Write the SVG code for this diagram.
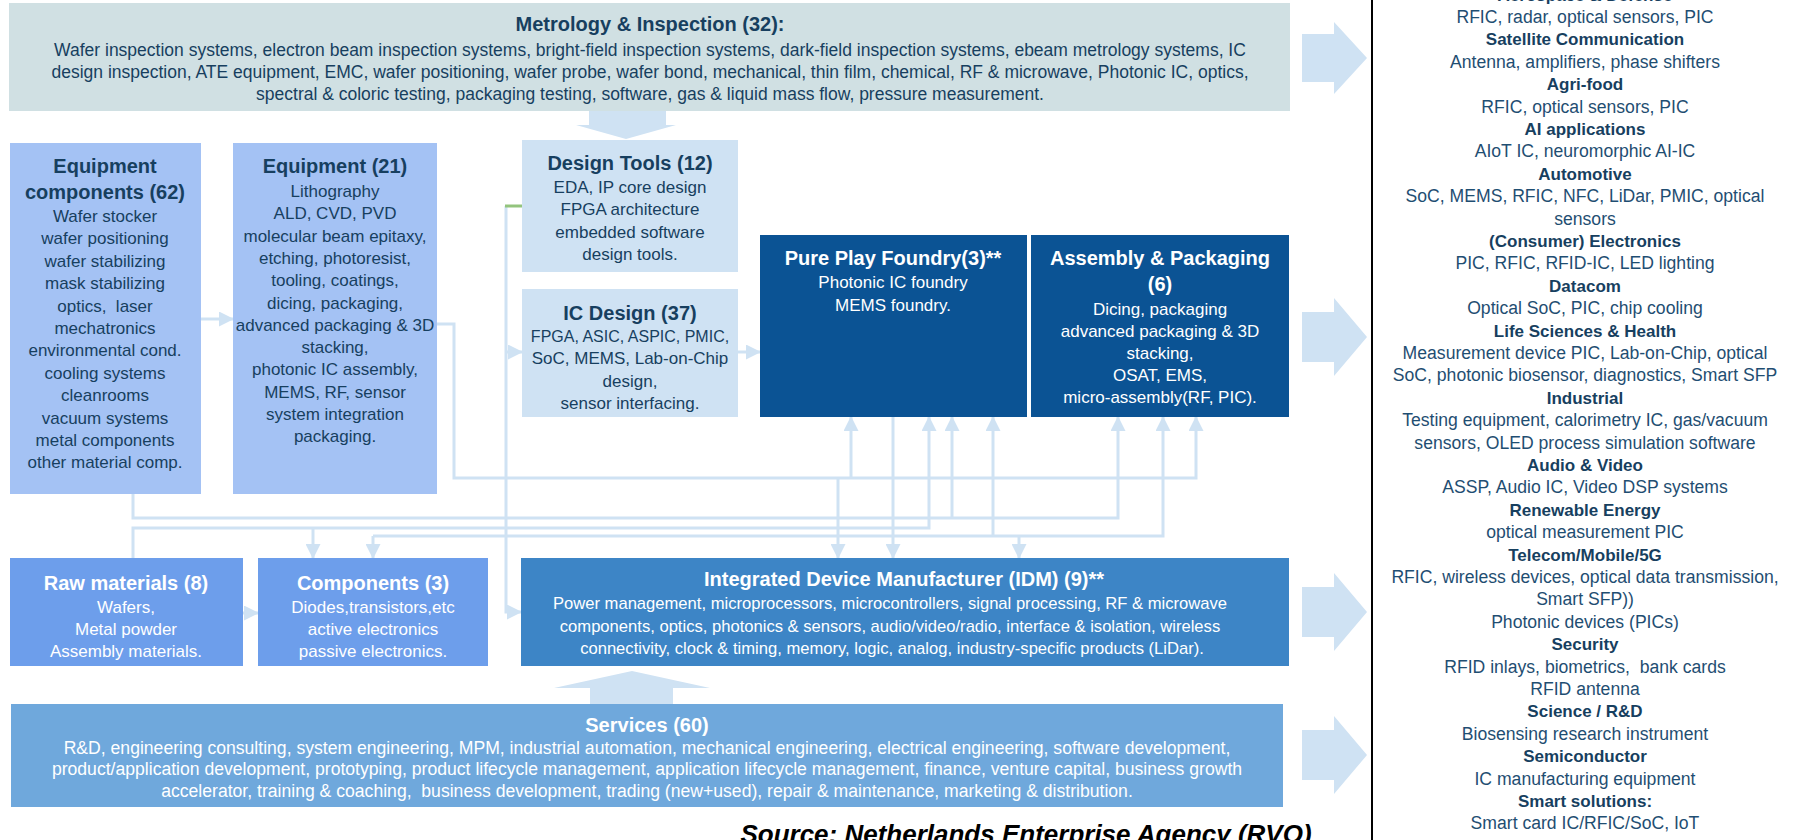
<svg xmlns="http://www.w3.org/2000/svg" width="1798" height="840" viewBox="0 0 1798 840">
<defs>
<style>
text { font-family: "Liberation Sans", Arial, sans-serif; text-anchor: middle; }
.t { font-size: 20px; font-weight: bold; }
.b { font-size: 17px; }
.bl { font-size: 17.5px; }
.dk { fill: #173f5f; }
.wh { fill: #ffffff; }
.rh { font-size: 17px; font-weight: bold; fill: #173f5f; }
.rb { font-size: 17.6px; fill: #1f4e72; }
.con { fill: none; stroke: #cfe2f3; stroke-width: 3; }
.big { fill: #cfe2f3; }
</style>
<marker id="ah" markerWidth="15" markerHeight="15" refX="14" refY="7.5" orient="auto" markerUnits="userSpaceOnUse"><path d="M0,0 L15,7.5 L0,15 Z" fill="#cfe2f3"/></marker>
</defs>
<rect width="1798" height="840" fill="#ffffff"/>

<g id="connectors">
  <path class="big" d="M589,111 H666 V125 H676 L626,139 L576,125 H589 Z"/>
  <path class="big" d="M590,704 V688 H554 L632,671 L710,688 H673 V704 Z"/>
  <path class="big" d="M1302,34 H1334 V22 L1367,58 L1334,94 V82 H1302 Z"/>
  <path class="big" d="M1302,312 H1334 V298 L1367,337 L1334,376 V362 H1302 Z"/>
  <path class="big" d="M1302,587 H1334 V573 L1367,612 L1334,651 V637 H1302 Z"/>
  <path class="big" d="M1302,730 H1334 V716 L1367,755 L1334,794 V780 H1302 Z"/>
  <path class="con" d="M201,319 H233" marker-end="url(#ah)"/>
  <path class="con" d="M243,613 H258" marker-end="url(#ah)"/>
  <path class="con" d="M437,324 H454 V478 H1196 V417" marker-end="url(#ah)"/>
  <path class="con" d="M851,478 V417" marker-end="url(#ah)"/>
  <path class="con" d="M838,478 V558" marker-end="url(#ah)"/>
  <path class="con" d="M133,494 V518 H1118 V417" marker-end="url(#ah)"/>
  <path class="con" d="M952,518 V417" marker-end="url(#ah)"/>
  <path class="con" d="M133,558 V528 H929 V417" marker-end="url(#ah)"/>
  <path class="con" d="M313,528 V558" marker-end="url(#ah)"/>
  <path class="con" d="M373,536 H1163 V417" marker-end="url(#ah)"/>
  <path class="con" d="M373,536 V558" marker-end="url(#ah)"/>
  <path class="con" d="M993,536 V417" marker-end="url(#ah)"/>
  <path class="con" d="M1019,536 V558" marker-end="url(#ah)"/>
  <path class="con" d="M893,417 V558" marker-end="url(#ah)"/>
  <path class="con" d="M506,206 V612 H521" marker-end="url(#ah)"/>
  <path class="con" d="M506,352 H522" marker-end="url(#ah)"/>
  <path fill="none" stroke="#93c47d" stroke-width="3" d="M522,206 H505"/>
  <path class="con" d="M738,352 H760" marker-end="url(#ah)"/>
  <line x1="1372" y1="0" x2="1372" y2="840" stroke="#000000" stroke-width="2"/>
</g>

<g id="metrology">
  <rect x="9" y="3" width="1281" height="108" fill="#d0e0e3"/>
  <text class="t dk" x="650" y="31">Metrology &amp; Inspection (32):</text>
  <text class="bl dk" x="650" y="56">Wafer inspection systems, electron beam inspection systems, bright-field inspection systems, dark-field inspection systems, ebeam metrology systems, IC</text>
  <text class="bl dk" x="650" y="78">design inspection, ATE equipment, EMC, wafer positioning, wafer probe, wafer bond, mechanical, thin film, chemical, RF &amp; microwave, Photonic IC, optics,</text>
  <text class="bl dk" x="650" y="100">spectral &amp; coloric testing, packaging testing, software, gas &amp; liquid mass flow, pressure measurement.</text>
</g>

<g id="equipment-components">
  <rect x="10" y="143" width="191" height="351" fill="#a4c2f4"/>
  <text class="t dk" x="105" y="173">Equipment</text>
  <text class="t dk" x="105" y="199">components (62)</text>
  <text class="b dk" x="105" y="222">Wafer stocker</text>
  <text class="b dk" x="105" y="244.4">wafer positioning</text>
  <text class="b dk" x="105" y="266.8">wafer stabilizing</text>
  <text class="b dk" x="105" y="289.2">mask stabilizing</text>
  <text class="b dk" x="105" y="311.6" xml:space="preserve">optics,  laser</text>
  <text class="b dk" x="105" y="334">mechatronics</text>
  <text class="b dk" x="105" y="356.4">environmental cond.</text>
  <text class="b dk" x="105" y="378.8">cooling systems</text>
  <text class="b dk" x="105" y="401.2">cleanrooms</text>
  <text class="b dk" x="105" y="423.6">vacuum systems</text>
  <text class="b dk" x="105" y="446">metal components</text>
  <text class="b dk" x="105" y="468.4">other material comp.</text>
</g>

<g id="equipment">
  <rect x="233" y="143" width="204" height="351" fill="#a4c2f4"/>
  <text class="t dk" x="335" y="173">Equipment (21)</text>
  <text class="b dk" x="335" y="197">Lithography</text>
  <text class="b dk" x="335" y="219.3">ALD, CVD, PVD</text>
  <text class="b dk" x="335" y="241.6">molecular beam epitaxy,</text>
  <text class="b dk" x="335" y="263.9">etching, photoresist,</text>
  <text class="b dk" x="335" y="286.2">tooling, coatings,</text>
  <text class="b dk" x="335" y="308.5">dicing, packaging,</text>
  <text class="b dk" x="335" y="330.8">advanced packaging &amp; 3D</text>
  <text class="b dk" x="335" y="353.1">stacking,</text>
  <text class="b dk" x="335" y="375.4">photonic IC assembly,</text>
  <text class="b dk" x="335" y="397.7">MEMS, RF, sensor</text>
  <text class="b dk" x="335" y="420">system integration</text>
  <text class="b dk" x="335" y="442.3">packaging.</text>
</g>

<g id="design-tools">
  <rect x="522" y="140" width="216" height="132" fill="#cfe2f3"/>
  <text class="t dk" x="630" y="170">Design Tools (12)</text>
  <text class="b dk" x="630" y="193">EDA, IP core design</text>
  <text class="b dk" x="630" y="215">FPGA architecture</text>
  <text class="b dk" x="630" y="238">embedded software</text>
  <text class="b dk" x="630" y="260">design tools.</text>
</g>

<g id="ic-design">
  <rect x="522" y="289" width="216" height="128" fill="#cfe2f3"/>
  <text class="t dk" x="630" y="320">IC Design (37)</text>
  <text class="dk" x="630" y="342" style="font-size:16px">FPGA, ASIC, ASPIC, PMIC,</text>
  <text class="b dk" x="630" y="364">SoC, MEMS, Lab-on-Chip</text>
  <text class="b dk" x="630" y="387">design,</text>
  <text class="b dk" x="630" y="409">sensor interfacing.</text>
</g>

<g id="pure-play-foundry">
  <rect x="760" y="235" width="267" height="182" fill="#0b5394"/>
  <text class="t wh" x="893" y="265">Pure Play Foundry(3)**</text>
  <text class="b wh" x="893" y="288">Photonic IC foundry</text>
  <text class="b wh" x="893" y="311">MEMS foundry.</text>
</g>

<g id="assembly-packaging">
  <rect x="1031" y="235" width="258" height="182" fill="#0b5394"/>
  <text class="t wh" x="1160" y="265">Assembly &amp; Packaging</text>
  <text class="t wh" x="1160" y="291">(6)</text>
  <text class="b wh" x="1160" y="315">Dicing, packaging</text>
  <text class="b wh" x="1160" y="337">advanced packaging &amp; 3D</text>
  <text class="b wh" x="1160" y="359">stacking,</text>
  <text class="b wh" x="1160" y="381">OSAT, EMS,</text>
  <text class="b wh" x="1160" y="403">micro-assembly(RF, PIC).</text>
</g>

<g id="raw-materials">
  <rect x="10" y="558" width="233" height="108" fill="#6d9eeb"/>
  <text class="t wh" x="126" y="590">Raw materials (8)</text>
  <text class="b wh" x="126" y="613">Wafers,</text>
  <text class="b wh" x="126" y="635">Metal powder</text>
  <text class="b wh" x="126" y="657">Assembly materials.</text>
</g>

<g id="components">
  <rect x="258" y="558" width="230" height="108" fill="#6d9eeb"/>
  <text class="t wh" x="373" y="590">Components (3)</text>
  <text class="b wh" x="373" y="613">Diodes,transistors,etc</text>
  <text class="b wh" x="373" y="635">active electronics</text>
  <text class="b wh" x="373" y="657">passive electronics.</text>
</g>

<g id="idm">
  <rect x="521" y="558" width="768" height="108" fill="#3d85c6"/>
  <text class="t wh" x="904" y="586">Integrated Device Manufacturer (IDM) (9)**</text>
  <text class="wh" x="890" y="609" style="font-size:16.6px">Power management, microprocessors, microcontrollers, signal processing, RF &amp; microwave</text>
  <text class="wh" x="890" y="632" style="font-size:16.6px">components, optics, photonics &amp; sensors, audio/video/radio, interface &amp; isolation, wireless</text>
  <text class="wh" x="892" y="654" style="font-size:16.6px">connectivity, clock &amp; timing, memory, logic, analog, industry-specific products (LiDar).</text>
</g>

<g id="services">
  <rect x="11" y="704" width="1272" height="103" fill="#6fa8dc"/>
  <text class="t wh" x="647" y="732">Services (60)</text>
  <text class="wh" x="647" y="754" style="font-size:17.6px">R&amp;D, engineering consulting, system engineering, MPM, industrial automation, mechanical engineering, electrical engineering, software development,</text>
  <text class="wh" x="647" y="775" style="font-size:17.6px">product/application development, prototyping, product lifecycle management, application lifecycle management, finance, venture capital, business growth</text>
  <text class="wh" x="647" y="797" style="font-size:17.6px" xml:space="preserve">accelerator, training &amp; coaching,  business development, trading (new+used), repair &amp; maintenance, marketing &amp; distribution.</text>
</g>

<g id="source">
  <text x="1026" y="843" style="font-size:26px;font-weight:bold;font-style:italic;fill:#000000">Source: Netherlands Enterprise Agency (RVO)</text>
</g>

<g id="applications">
  <text class="rh" x="1585" y="0.6">Aerospace &amp; Defense</text>
  <text class="rb" x="1585" y="23">RFIC, radar, optical sensors, PIC</text>
  <text class="rh" x="1585" y="45.4">Satellite Communication</text>
  <text class="rb" x="1585" y="67.8">Antenna, amplifiers, phase shifters</text>
  <text class="rh" x="1585" y="90.2">Agri-food</text>
  <text class="rb" x="1585" y="112.6">RFIC, optical sensors, PIC</text>
  <text class="rh" x="1585" y="135">AI applications</text>
  <text class="rb" x="1585" y="157.4">AIoT IC, neuromorphic AI-IC</text>
  <text class="rh" x="1585" y="179.8">Automotive</text>
  <text class="rb" x="1585" y="202.2">SoC, MEMS, RFIC, NFC, LiDar, PMIC, optical</text>
  <text class="rb" x="1585" y="224.6">sensors</text>
  <text class="rh" x="1585" y="247">(Consumer) Electronics</text>
  <text class="rb" x="1585" y="269.4">PIC, RFIC, RFID-IC, LED lighting</text>
  <text class="rh" x="1585" y="291.8">Datacom</text>
  <text class="rb" x="1585" y="314.2">Optical SoC, PIC, chip cooling</text>
  <text class="rh" x="1585" y="336.6">Life Sciences &amp; Health</text>
  <text class="rb" x="1585" y="359">Measurement device PIC, Lab-on-Chip, optical</text>
  <text class="rb" x="1585" y="381.4">SoC, photonic biosensor, diagnostics, Smart SFP</text>
  <text class="rh" x="1585" y="403.8">Industrial</text>
  <text class="rb" x="1585" y="426.2">Testing equipment, calorimetry IC, gas/vacuum</text>
  <text class="rb" x="1585" y="448.6">sensors, OLED process simulation software</text>
  <text class="rh" x="1585" y="471">Audio &amp; Video</text>
  <text class="rb" x="1585" y="493.4">ASSP, Audio IC, Video DSP systems</text>
  <text class="rh" x="1585" y="515.8">Renewable Energy</text>
  <text class="rb" x="1585" y="538.2">optical measurement PIC</text>
  <text class="rh" x="1585" y="560.6">Telecom/Mobile/5G</text>
  <text class="rb" x="1585" y="583">RFIC, wireless devices, optical data transmission,</text>
  <text class="rb" x="1585" y="605.4">Smart SFP))</text>
  <text class="rb" x="1585" y="627.8">Photonic devices (PICs)</text>
  <text class="rh" x="1585" y="650.2">Security</text>
  <text class="rb" x="1585" y="672.6" xml:space="preserve">RFID inlays, biometrics,  bank cards</text>
  <text class="rb" x="1585" y="695">RFID antenna</text>
  <text class="rh" x="1585" y="717.4">Science / R&amp;D</text>
  <text class="rb" x="1585" y="739.8">Biosensing research instrument</text>
  <text class="rh" x="1585" y="762.2">Semiconductor</text>
  <text class="rb" x="1585" y="784.6">IC manufacturing equipment</text>
  <text class="rh" x="1585" y="807">Smart solutions:</text>
  <text class="rb" x="1585" y="829.4">Smart card IC/RFIC/SoC, IoT</text>
</g>
</svg>
